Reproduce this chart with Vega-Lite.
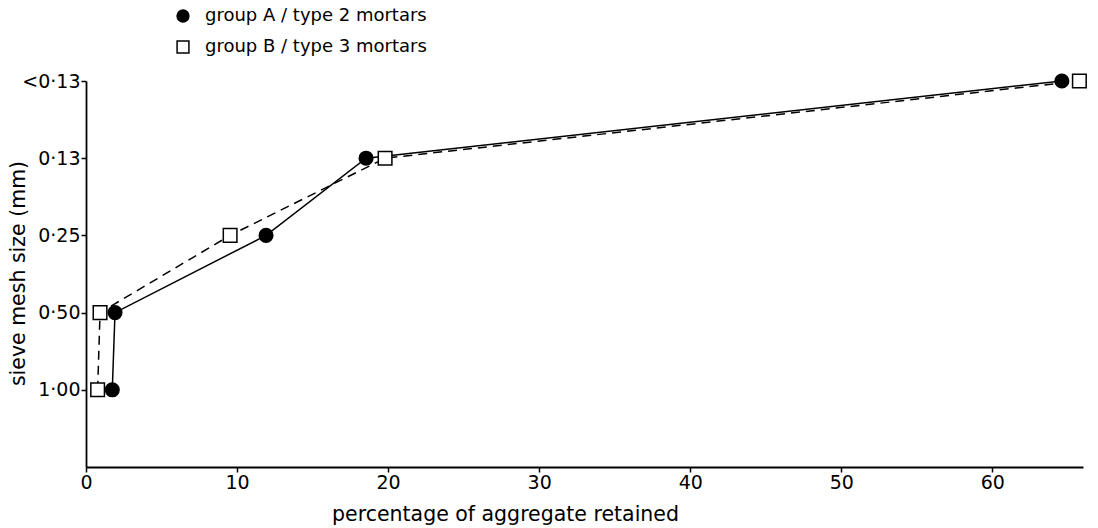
{
  "$schema": "https://vega.github.io/schema/vega-lite/v6.json",
  "autosize": {"type": "none"},
  "padding": {"left": 86, "top": 81, "right": 15, "bottom": 61},
  "width": 997,
  "height": 386,
  "background": "white",
  "data": {
    "values": [
      {"group": "group A / type 2 mortars", "size": "1·00", "rank": 1, "pct": 1.74},
      {"group": "group A / type 2 mortars", "size": "0·50", "rank": 2, "pct": 1.92},
      {"group": "group A / type 2 mortars", "size": "0·25", "rank": 3, "pct": 11.92},
      {"group": "group A / type 2 mortars", "size": "0·13", "rank": 4, "pct": 18.54},
      {"group": "group A / type 2 mortars", "size": "<0·13", "rank": 5, "pct": 64.6},
      {"group": "group B / type 3 mortars", "size": "1·00", "rank": 1, "pct": 0.77},
      {"group": "group B / type 3 mortars", "size": "0·50", "rank": 2, "pct": 0.93},
      {"group": "group B / type 3 mortars", "size": "0·25", "rank": 3, "pct": 9.54},
      {"group": "group B / type 3 mortars", "size": "0·13", "rank": 4, "pct": 19.8},
      {"group": "group B / type 3 mortars", "size": "<0·13", "rank": 5, "pct": 65.76}
    ]
  },
  "encoding": {
    "x": {
      "field": "pct",
      "type": "quantitative",
      "scale": {"domain": [0, 66], "nice": false, "zero": false},
      "axis": {
        "title": "percentage of aggregate retained",
        "values": [0, 10, 20, 30, 40, 50, 60],
        "grid": false,
        "domainColor": "black",
        "domainWidth": 1.8,
        "tickColor": "black",
        "tickWidth": 1.5,
        "tickSize": 5,
        "labelPadding": 1,
        "labelFont": "DejaVu Sans",
        "labelFontSize": 19,
        "labelColor": "black",
        "labelFlush": false,
        "titleFont": "DejaVu Sans",
        "titleFontSize": 20.5,
        "titleFontWeight": "normal",
        "titleColor": "black",
        "titleX": 419,
        "titleY": 53,
        "titleAlign": "center",
        "titleAnchor": null,
        "titleBaseline": "alphabetic"
      }
    },
    "y": {
      "field": "rank",
      "type": "quantitative",
      "scale": {"domain": [0, 5], "nice": false},
      "axis": {
        "title": "sieve mesh size (mm)",
        "values": [1, 2, 3, 4, 5],
        "labelExpr": "datum.value == 1 ? '1·00' : datum.value == 2 ? '0·50' : datum.value == 3 ? '0·25' : datum.value == 4 ? '0·13' : '<0·13'",
        "grid": false,
        "domainColor": "black",
        "domainWidth": 1.8,
        "tickColor": "black",
        "tickWidth": 1.5,
        "tickSize": 5,
        "labelPadding": 1,
        "labelFont": "DejaVu Sans",
        "labelFontSize": 19,
        "labelColor": "black",
        "labelFlush": false,
        "labelBaseline": "middle",
        "titleFont": "DejaVu Sans",
        "titleFontSize": 20.5,
        "titleFontWeight": "normal",
        "titleColor": "black",
        "titleX": -68,
        "titleY": 192,
        "titleAngle": -90,
        "titleAlign": "center",
        "titleAnchor": null,
        "titleBaseline": "middle"
      }
    }
  },
  "layer": [
    {
      "transform": [{"filter": "datum.group == 'group A / type 2 mortars'"}],
      "mark": {"type": "line", "color": "black", "strokeWidth": 1.5},
      "encoding": {
        "order": {"field": "rank", "type": "quantitative"}
      }
    },
    {
      "transform": [{"filter": "datum.group == 'group B / type 3 mortars'"}],
      "mark": {"type": "line", "color": "black", "strokeWidth": 1.5, "strokeDash": [9, 6]},
      "encoding": {
        "order": {"field": "rank", "type": "quantitative"}
      }
    },
    {
      "mark": {"type": "point", "filled": true, "opacity": 1, "stroke": "black", "strokeWidth": 1.5, "size": 185},
      "encoding": {
        "shape": {
          "field": "group",
          "type": "nominal",
          "scale": {"domain": ["group A / type 2 mortars", "group B / type 3 mortars"], "range": ["circle", "square"]},
          "legend": {
            "title": null,
            "orient": "none",
            "legendX": 88,
            "legendY": -74,
            "padding": 0,
            "symbolSize": 140,
            "symbolStrokeColor": "black",
            "symbolStrokeWidth": 1.5,
            "symbolOpacity": 1,
            "labelFont": "DejaVu Sans",
            "labelFontSize": 18,
            "labelColor": "black",
            "labelOffset": 13,
            "rowPadding": 13,
            "labelLimit": 500,
            "encode": {"symbols": {"update": {"stroke": {"value": "black"}, "strokeWidth": {"value": 1.5}}}}
          }
        },
        "fill": {
          "field": "group",
          "type": "nominal",
          "scale": {"domain": ["group A / type 2 mortars", "group B / type 3 mortars"], "range": ["black", "white"]},
          "legend": {
            "title": null,
            "orient": "none",
            "legendX": 88,
            "legendY": -74,
            "padding": 0,
            "symbolSize": 140,
            "symbolStrokeColor": "black",
            "symbolStrokeWidth": 1.5,
            "symbolOpacity": 1,
            "labelFont": "DejaVu Sans",
            "labelFontSize": 18,
            "labelColor": "black",
            "labelOffset": 13,
            "rowPadding": 13,
            "labelLimit": 500,
            "encode": {"symbols": {"update": {"stroke": {"value": "black"}, "strokeWidth": {"value": 1.5}}}}
          }
        }
      }
    }
  ],
  "config": {
    "view": {"stroke": null}
  }
}
